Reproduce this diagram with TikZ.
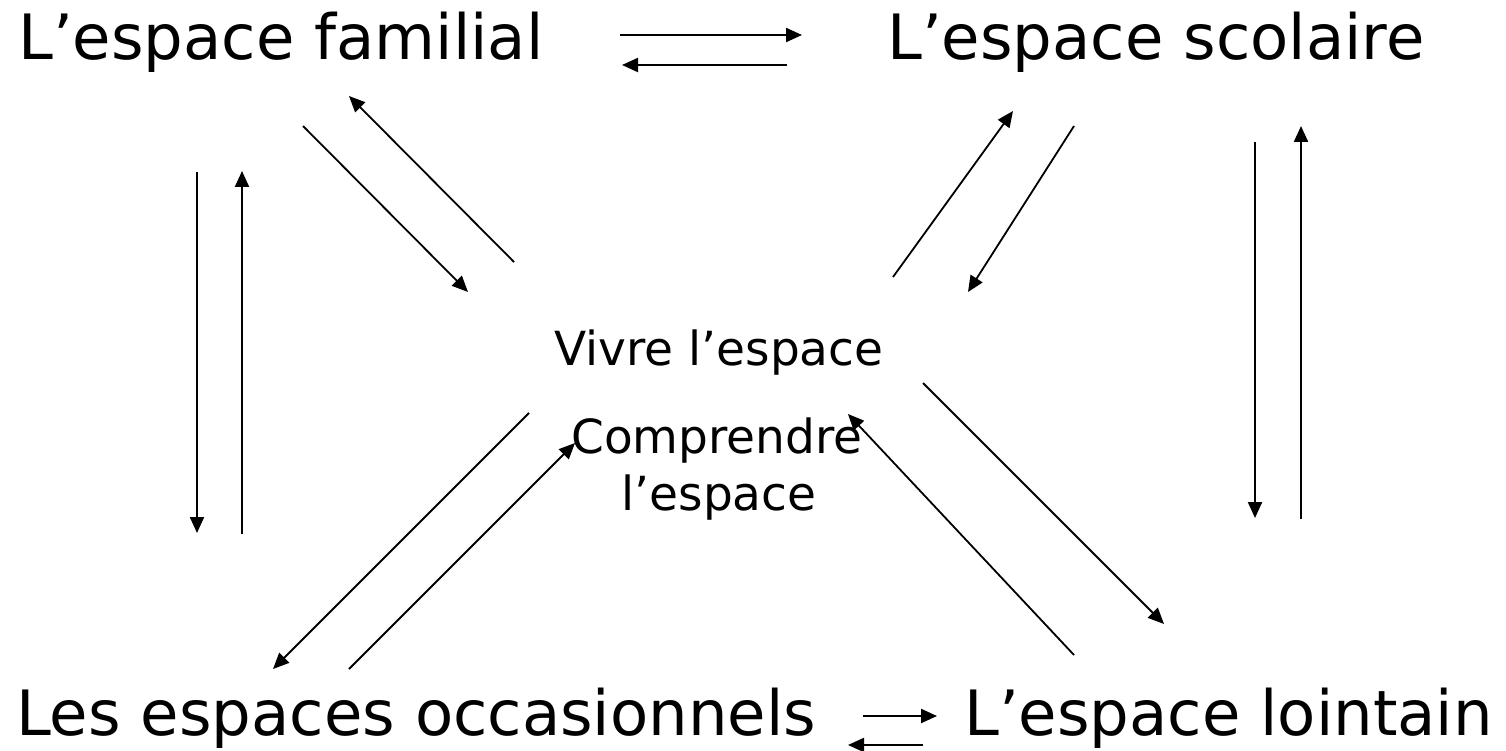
\documentclass[tikz,border=0pt]{standalone}
\usepackage{fontspec}
\setmainfont{DejaVu Sans}
\usetikzlibrary{arrows.meta}
\begin{document}
\begin{tikzpicture}[x=1pt,y=-1pt,
  bigtext/.style={inner sep=0pt,anchor=base west,font=\fontsize{62.5}{74}\selectfont},
  midtext/.style={inner sep=0pt,anchor=base,font=\fontsize{47}{56}\selectfont},
  conn/.style={line width=2.2pt,-{Triangle[length=16pt,width=14pt]}},
  diag/.style={line width=1.8pt,-{Triangle[length=16pt,width=14pt]}}]
\useasboundingbox (0,0) rectangle (1506,751);
% labels
\node[bigtext] (fam) at (18,60) {L’espace familial};
\node[bigtext] (scol) at (887,60) {L’espace scolaire};
\node[bigtext] (occ) at (16,735) {Les espaces occasionnels};
\node[bigtext] (loin) at (964,735) {L’espace lointain};
\node[midtext] (viv) at (719,365) {Vivre l’espace};
\node[midtext] (comp) at (717,453) {Comprendre};
\node[midtext] (lesp) at (719,510) {l’espace};
% connector end points
\coordinate (t1a) at (620,35);  \coordinate (t1b) at (802,35);
\coordinate (t2a) at (787,65);  \coordinate (t2b) at (622,65);
\coordinate (b1a) at (863,716); \coordinate (b1b) at (937,716);
\coordinate (b2a) at (923,745); \coordinate (b2b) at (848,745);
\coordinate (l1a) at (197,172); \coordinate (l1b) at (197,533);
\coordinate (l2a) at (242,534); \coordinate (l2b) at (242,171);
\coordinate (r1a) at (1255,142); \coordinate (r1b) at (1255,518);
\coordinate (r2a) at (1301,519); \coordinate (r2b) at (1301,126);
\coordinate (fa) at (303,126); \coordinate (fb) at (468,292);
\coordinate (fc) at (514,262); \coordinate (fd) at (349,96);
\coordinate (sa) at (893,277); \coordinate (sb) at (1013,111);
\coordinate (sc) at (1074,126); \coordinate (sd) at (968,292);
\coordinate (oa) at (529,413); \coordinate (ob) at (273,669);
\coordinate (oc) at (349,669); \coordinate (od) at (575,443);
\coordinate (la) at (923,383); \coordinate (lb) at (1164,624);
\coordinate (lc) at (1074,655); \coordinate (ld) at (848,414);
% connectors
\draw[conn] (t1a) -- (t1b);
\draw[conn] (t2a) -- (t2b);
\draw[conn] (b1a) -- (b1b);
\draw[conn] (b2a) -- (b2b);
\draw[conn] (l1a) -- (l1b);
\draw[conn] (l2a) -- (l2b);
\draw[conn] (r1a) -- (r1b);
\draw[conn] (r2a) -- (r2b);
\draw[diag] (fa) -- (fb);
\draw[diag] (fc) -- (fd);
\draw[diag] (sa) -- (sb);
\draw[diag] (sc) -- (sd);
\draw[diag] (oa) -- (ob);
\draw[diag] (oc) -- (od);
\draw[diag] (la) -- (lb);
\draw[diag] (lc) -- (ld);
\end{tikzpicture}
\end{document}
